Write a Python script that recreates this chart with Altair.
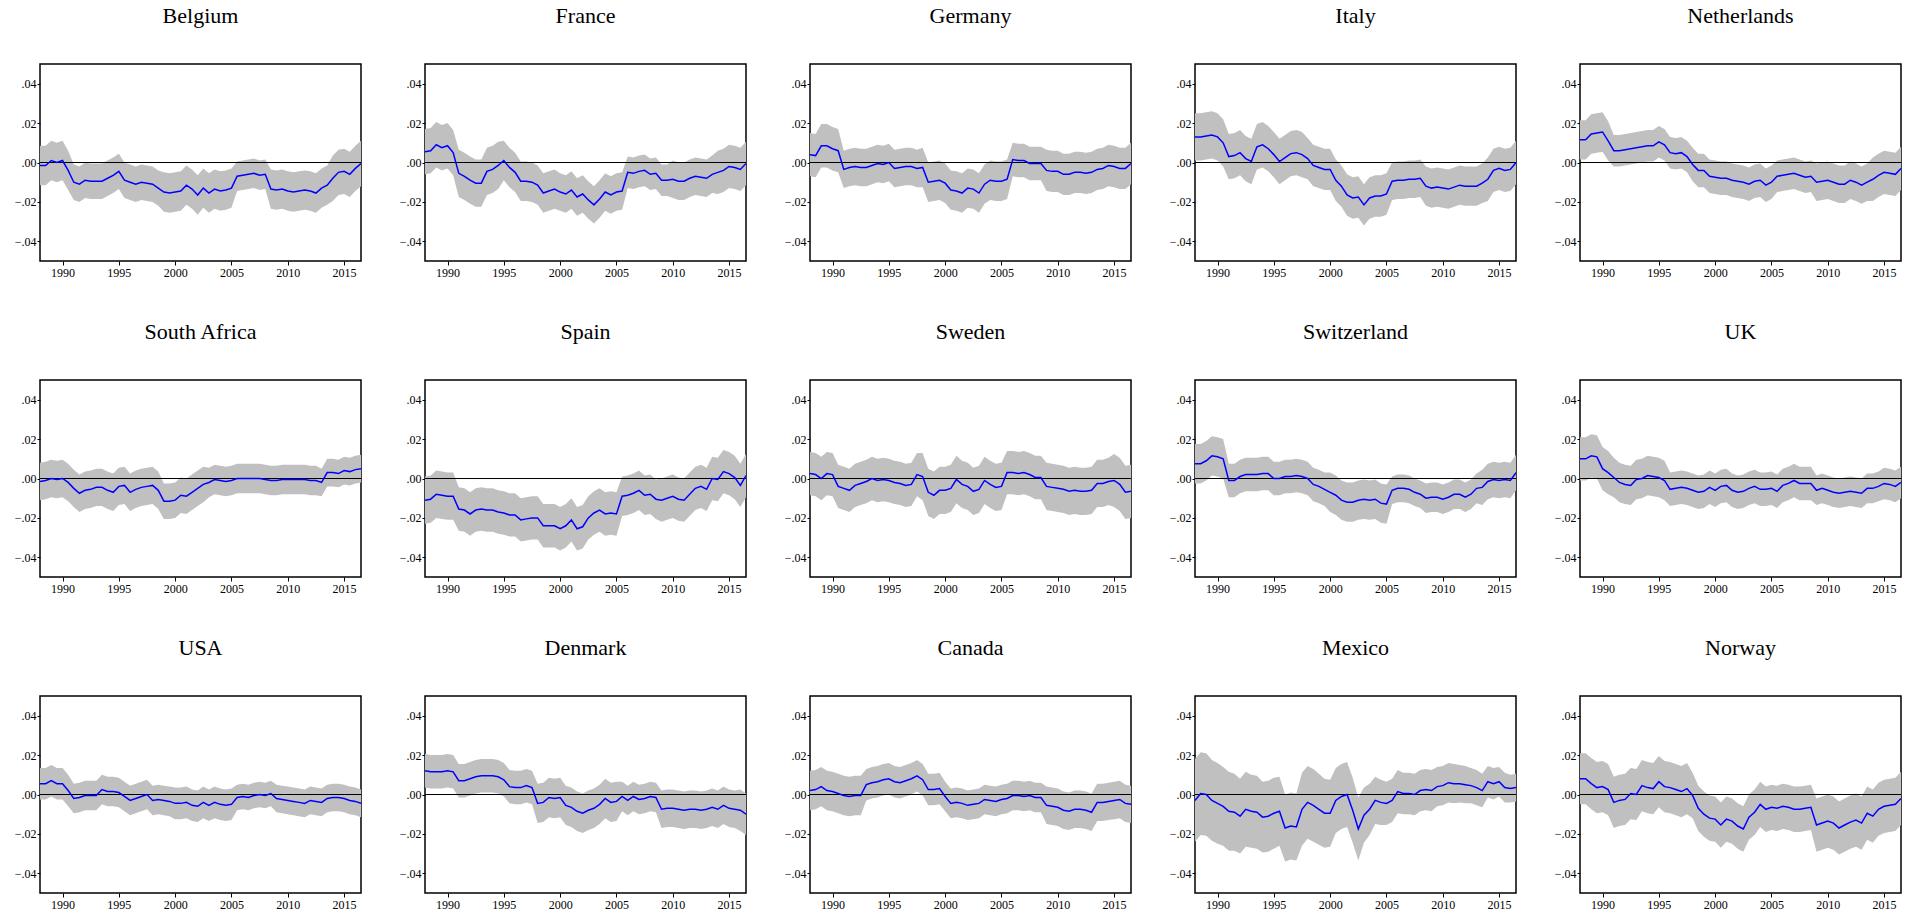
import altair as alt
import pandas as pd

COUNTRIES = ["Belgium", "France", "Germany", "Italy", "Netherlands",
             "South Africa", "Spain", "Sweden", "Switzerland", "UK",
             "USA", "Denmark", "Canada", "Mexico", "Norway"]

# half-year observation dates, 1988.0 ... 2016.5
YEARS = [1988 + 0.5 * i for i in range(58)]

# Estimates and band half-widths, in thousandths (x 0.001)
BELGIUM = [-1.5, -1.5, 1, 0, 1, -4, -10, -11,
           -9, -9.5, -9.5, -9.5, -8, -6.5, -4.5, -9,
           -10, -11, -10, -10.5, -11, -13, -15, -15.5,
           -15, -14.5, -11.5, -13.5, -16.5, -13, -15.5, -13.5,
           -14.5, -14, -13, -7, -6.5, -6, -5.5, -6.5,
           -6, -13.5, -14, -13.5, -14.5, -15, -14.5, -14,
           -14.5, -15.5, -13, -11.5, -8, -5, -4.5, -6,
           -3, -0.5]
BELGIUM_HW = [10, 10, 10, 10, 10, 10, 9, 9,
              9, 9, 9, 9, 9, 9, 9, 9,
              9, 9, 9, 9, 9, 9, 10, 10,
              10, 10, 10, 10, 10, 10, 10, 10,
              10, 10, 10, 7.5, 7.5, 7.5, 7.5, 7.5,
              7.5, 10, 10, 10, 10, 10, 10, 10,
              10, 10, 10, 10, 11.5, 11.5, 11.5, 11.5,
              11.5, 11.5]

FRANCE = [5.5, 6, 9, 7.5, 8.5, 5, -5.5, -7,
          -9, -10.5, -10.5, -4.5, -3.5, -1.5, 1, -2.5,
          -5, -9.5, -9.5, -10, -11.5, -15.5, -14.5, -13.5,
          -15, -16, -14, -17.5, -16, -19, -21.5, -18.5,
          -15, -16.5, -15, -14.5, -5, -5.5, -4.5, -4,
          -6, -5.5, -9, -9, -8.5, -9.5, -9.5, -8,
          -7, -7.5, -8, -6, -5, -4, -2, -2.5,
          -3.5, -0.5]
FRANCE_HW = [11.5, 11.5, 11.5, 11.5, 11.5, 11.5, 12, 12,
             12, 12, 12, 12, 12, 12, 10, 10,
             10, 10, 10, 10, 10, 10, 10, 10,
             9.5, 9.5, 9.5, 9.5, 9.5, 9.5, 9.5, 9.5,
             9.5, 9.5, 9.5, 9.5, 8, 8, 8, 8,
             8, 8, 8, 8, 9.5, 9.5, 9.5, 9.5,
             9.5, 9.5, 9.5, 9.5, 11, 11, 11, 11,
             11, 11]

GERMANY = [4, 3.5, 8.5, 8.5, 7, 6, -3.5, -2.5,
           -2, -2.5, -2.5, -1.5, -0.5, -1, 0, -3,
           -2.5, -2, -2, -3, -2.5, -10, -9.5, -9,
           -10.5, -14, -14.5, -15.5, -13, -13.5, -15.5, -11,
           -9, -9.5, -9.5, -8.5, 1.5, 1, 1, -0.5,
           -0.5, -0.5, -4, -4.5, -4.5, -6, -6, -5,
           -5, -5.5, -5, -3.5, -3, -1.5, -2, -3,
           -3, -0.5]
GERMANY_HW = [11, 11, 11, 11, 11, 11, 9.5, 9.5,
              9.5, 9.5, 9.5, 9.5, 9.5, 9.5, 9.5, 9.5,
              9.5, 9.5, 9.5, 9.5, 10, 10, 10, 10,
              10, 10, 10, 10, 10, 10, 10, 10,
              10, 10, 10, 10, 8.5, 8.5, 8.5, 8.5,
              8.5, 8.5, 10.5, 10.5, 10.5, 10.5, 10.5, 10.5,
              10.5, 10.5, 10.5, 10.5, 10.5, 10.5, 10.5, 10.5,
              10.5, 10.5]

ITALY = [13, 13, 13.5, 14, 13, 10, 3, 3.5,
         5, 2, 0.5, 8, 9, 7, 4, 0.5,
         2.5, 4.5, 5, 4, 2, -1.5, -2.5, -3.5,
         -3.5, -9, -12, -16.5, -18, -17.5, -21.5, -18,
         -17, -17, -16, -9.5, -9, -9, -8.5, -8.5,
         -8, -12, -13, -12.5, -13, -13.5, -12.5, -11.5,
         -12, -12, -12, -10.5, -8.5, -4, -3, -4,
         -3.5, 0]
ITALY_HW = [12, 12, 12, 12, 12, 12, 11.5, 11.5,
            11.5, 11.5, 11.5, 11.5, 11.5, 11.5, 11.5, 11.5,
            11.5, 11.5, 11.5, 11.5, 10.5, 10.5, 10.5, 10.5,
            10.5, 10.5, 10.5, 10.5, 10.5, 10.5, 10.5, 10.5,
            10.5, 10.5, 10.5, 9.5, 9.5, 9.5, 9.5, 9.5,
            9.5, 10, 10, 10, 10, 10, 10, 10,
            10, 10, 10, 10, 11, 11, 11, 11,
            11, 11]

NETHERLANDS = [11.5, 11.5, 14.5, 15, 15.5, 11, 6, 6,
               6.5, 7, 7.5, 8, 8.5, 8.5, 10.5, 9,
               5, 4.5, 5, 3, -1, -4, -4, -7,
               -7.5, -8, -8, -9, -9.5, -10, -11, -9.5,
               -9, -11.5, -10, -7, -6.5, -6, -5.5, -6.5,
               -7.5, -7, -10, -9.5, -9, -10, -11, -11,
               -9, -10, -11.5, -10, -8.5, -6.5, -5, -5.5,
               -6, -3]
NETHERLANDS_HW = [10, 10, 10, 10, 10, 10, 8, 8,
                  8, 8, 8, 8, 8, 8, 8, 8,
                  8, 8, 8, 8, 8.5, 8.5, 8.5, 8.5,
                  8.5, 8.5, 8.5, 8.5, 8.5, 8.5, 8.5, 8.5,
                  8.5, 8.5, 8.5, 8, 8, 8, 8, 8,
                  8, 8, 9.5, 9.5, 9.5, 9.5, 9.5, 9.5,
                  9.5, 9.5, 9.5, 9.5, 11, 11, 11, 11,
                  11, 11]

SOUTH_AFRICA = [-1.5, -1, 0, -0.5, 0, -2, -5, -7.5,
                -6, -5.5, -4.5, -4.5, -6, -7, -4, -3.5,
                -7, -5.5, -4.5, -4, -3.5, -6, -11.5, -11.5,
                -11, -8.5, -9, -7, -5, -3, -2, -0.5,
                -1, -1.5, -1, 0, 0, 0, 0, 0,
                -0.5, -1, -1, -0.5, -0.5, -0.5, -0.5, -0.5,
                -1, -1, -2, 3, 3, 2.5, 4, 3.5,
                4.5, 5]
SOUTH_AFRICA_HW = [9.5, 9.5, 9.5, 9.5, 9.5, 9.5, 9.5, 9.5,
                   9.5, 9.5, 9.5, 9.5, 9.5, 9.5, 9.5, 9.5,
                   9.5, 9.5, 9.5, 9.5, 9.5, 9.5, 9, 9,
                   9, 9, 9, 9, 9, 9, 7.5, 7.5,
                   7.5, 7.5, 7.5, 7.5, 7.5, 7.5, 7.5, 7.5,
                   7.5, 7.5, 7.5, 7.5, 7.5, 7.5, 7.5, 7.5,
                   7.5, 7.5, 7, 7, 7, 7, 7, 7,
                   7, 7]

SPAIN = [-11, -10.5, -8, -8.5, -9, -9, -15.5, -16,
         -18, -16, -15.5, -16, -16, -17, -17.5, -18.5,
         -18.5, -21, -20.5, -20, -20, -24, -24, -24,
         -25.5, -24, -21, -25.5, -24.5, -20, -17.5, -16,
         -18, -17.5, -18, -9, -8.5, -7.5, -6, -8.5,
         -8, -10.5, -11, -10, -9, -10.5, -11, -8,
         -5, -4, -5.5, 0, -0.5, 3.5, 2.5, 0.5,
         -3.5, 1.5]
SPAIN_HW = [12, 12, 12, 12, 12, 12, 11, 11,
            11, 11, 11, 11, 11, 11, 11, 11,
            11, 11, 11, 11, 11, 11, 11, 11,
            11, 11, 11, 11, 11, 11, 11, 11,
            11, 11, 11, 10, 10, 10, 10, 10,
            10, 10, 11, 11, 11, 11, 11, 11,
            11, 11, 11, 11, 11, 11, 11, 11,
            11, 11]

SWEDEN = [2.5, 2, 0, 2.5, 2, -4, -5, -6,
          -3.5, -2.5, -1.5, 0, -1, -0.5, -1, -2,
          -2.5, -3.5, -3, 2, 1, -7, -8.5, -6,
          -6, -5, -0.5, -3, -4, -6.5, -5.5, -1,
          -3, -4.5, -4, 3, 3, 2.5, 3, 2,
          0.5, 0.5, -4, -4.5, -5, -5.5, -6.5, -6,
          -6.5, -6.5, -6, -2.5, -2.5, -1.5, -1, -3,
          -7, -6.5]
SWEDEN_HW = [11, 11, 11, 11, 11, 11, 11, 11,
             11, 11, 11, 11, 11, 11, 11, 11,
             11, 11, 11, 11, 12, 12, 12, 12,
             12, 12, 12, 12, 12, 12, 12, 12,
             12, 12, 12, 11, 11, 11, 11, 11,
             11, 11, 12, 12, 12, 12, 12, 12,
             12, 12, 12, 12, 12, 12, 13.5, 13.5,
             13.5, 13.5]

SWITZERLAND = [7.5, 7.5, 9, 11.5, 11, 10, -1, -1,
               1, 2, 2, 2, 2.5, 2.5, 0, 0,
               1, 1, 1.5, 1, 0, -3, -4, -5.5,
               -7, -8.5, -11, -12, -12, -11, -10.5, -11,
               -10.5, -12.5, -13, -6, -5, -5, -5.5, -7,
               -8, -10, -9.5, -9.5, -10.5, -9.5, -8, -8,
               -9.5, -8, -5, -4.5, -1.5, -0.5, -1, -0.5,
               -1, 3]
SWITZERLAND_HW = [10, 10, 10, 10, 10, 10, 8.5, 8.5,
                  8.5, 8.5, 8.5, 8.5, 8.5, 8.5, 8.5, 8.5,
                  8.5, 8.5, 8.5, 8.5, 8.5, 8.5, 8.5, 8.5,
                  10, 10, 10, 10, 10, 10, 10, 10,
                  10, 10, 10, 7, 7, 7, 7, 7,
                  7, 7.5, 7.5, 7.5, 7.5, 7.5, 7.5, 7.5,
                  7.5, 7.5, 7.5, 9, 9, 9, 9, 9,
                  9, 9]

UK = [10, 10, 11.5, 11, 5, 3, 0.5, -2,
      -3, -3.5, -0.5, 0, 1.5, 1, 0.5, -1,
      -5.5, -5, -4.5, -5, -6, -7, -6.5, -4.5,
      -6, -4, -3.5, -6, -7, -6.5, -5, -4,
      -5.5, -5.5, -5, -6.5, -3.5, -2.5, -1, -2.5,
      -2.5, -2.5, -6, -5, -6, -7, -7.5, -7,
      -6.5, -7, -7.5, -5, -5, -4, -2.5, -3,
      -4, -2]
UK_HW = [11, 11, 11, 11, 11, 11, 10, 10,
         10, 10, 10, 10, 10, 10, 10, 10,
         8.5, 8.5, 8.5, 8.5, 8.5, 8.5, 8.5, 8.5,
         8.5, 8.5, 8.5, 8.5, 8.5, 8.5, 8.5, 8.5,
         8.5, 8.5, 8.5, 8.5, 8.5, 8.5, 8.5, 8.5,
         8.5, 8.5, 7.5, 7.5, 7.5, 7.5, 7.5, 7.5,
         7.5, 7.5, 7.5, 7.5, 7.5, 7.5, 8, 8,
         8, 8]

USA = [5.5, 5.5, 7, 5.5, 5.5, 2, -2, -1.5,
       -0.5, -0.5, -0.5, 2.5, 1.5, 1.5, 1, -1,
       -3, -2, -1, 0, -3, -2.5, -3, -3.5,
       -4.5, -4.5, -4, -5.5, -6, -4, -5.5, -4,
       -5, -5.5, -5, -1.5, -1, -1.5, -0.5, 0,
       -0.5, 0.5, -2, -2.5, -3, -3.5, -4, -4.5,
       -3, -3.5, -4, -2, -1.5, -1.5, -2, -3,
       -3.5, -4.5]
USA_HW = [8, 8, 8, 8, 8, 8, 7.5, 7.5,
          7.5, 7.5, 7.5, 7.5, 7.5, 7.5, 7.5, 7.5,
          7.5, 7.5, 7.5, 7.5, 7.5, 7.5, 7.5, 7.5,
          8, 8, 8, 8, 8, 8, 8, 8,
          8, 8, 8, 6.5, 6.5, 6.5, 6.5, 6.5,
          6.5, 6.5, 7, 7, 7, 7, 7, 7,
          7, 7, 7, 7, 7, 7, 7, 7,
          7, 7]

DENMARK = [12, 11.5, 11.5, 11.5, 12, 11.5, 7, 7,
           8, 9, 9.5, 9.5, 9.5, 9, 7.5, 4,
           3.5, 3.5, 4.5, 3.5, -4.5, -4, -1.5, -2,
           -1.5, -5.5, -6.5, -8.5, -9.5, -8, -7, -5,
           -2, -4, -3.5, -1, -3, -1, -2.5, -2,
           -1, -1.5, -7.5, -7, -7, -7.5, -8, -7.5,
           -7.5, -8, -7.5, -6.5, -7.5, -5.5, -7, -7.5,
           -8, -10]
DENMARK_HW = [8.5, 8.5, 8.5, 8.5, 8.5, 8.5, 8.5, 8.5,
              8.5, 8.5, 8.5, 8.5, 8.5, 8.5, 8.5, 8.5,
              8.5, 8.5, 8.5, 8.5, 10, 10, 10, 10,
              10, 10, 10, 10, 10, 10, 10, 10,
              10, 10, 10, 7.5, 7.5, 7.5, 7.5, 7.5,
              7.5, 7.5, 9.5, 9.5, 9.5, 9.5, 9.5, 9.5,
              9.5, 9.5, 9.5, 9.5, 9.5, 9.5, 9.5, 9.5,
              10.5, 10.5]

CANADA = [2, 2.5, 4, 2, 1.5, 0.5, -0.5, -1,
          -0.5, -0.5, 5, 6, 6.5, 7.5, 8, 6.5,
          6, 7, 8, 9.5, 7.5, 2.5, 2.5, 3,
          -1, -4.5, -4, -4.5, -5.5, -5, -4.5, -2.5,
          -3, -3.5, -2.5, -2, -0.5, -0.5, -1, -0.5,
          -1.5, -1.5, -5.5, -6, -6.5, -8, -8.5, -7.5,
          -7.5, -8, -9, -4, -4, -3.5, -3, -2.5,
          -4.5, -5]
CANADA_HW = [10, 10, 10, 10, 10, 10, 10, 10,
             10, 10, 8, 8, 8, 8, 8, 8,
             8, 8, 8, 8, 8, 8, 8, 8,
             7.5, 7.5, 7.5, 7.5, 7.5, 7.5, 7.5, 7.5,
             7.5, 7.5, 7.5, 7.5, 7.5, 7.5, 7.5, 7.5,
             7.5, 7.5, 9.5, 9.5, 9.5, 9.5, 9.5, 9.5,
             9.5, 9.5, 9.5, 9.5, 9.5, 9.5, 9.5, 9.5,
             9.5, 9.5]

MEXICO = [-3, 0.5, 0, -3, -4.5, -6, -8.5, -9,
          -11, -7.5, -8.5, -9, -11.5, -11, -9.5, -8.5,
          -17, -16, -16.5, -7.5, -4, -5.5, -7.5, -9.5,
          -9.5, -3, -1, 0, -8, -17.5, -10.5, -7.5,
          -3, -4, -4.5, -3, 1.5, 0.5, 0.5, 0,
          2, 2.5, 2, 4, 4.5, 6, 5.5, 5.5,
          5, 4.5, 3.5, 2, 6.5, 5.5, 6.5, 3.5,
          3, 3.5]
MEXICO_HW = [21, 21, 21, 20.5, 20.5, 20, 20, 19.5,
             19, 19, 18.5, 18.5, 18, 18, 18, 17.5,
             17, 17, 17, 18.5, 18.5, 18.5, 18, 17.5,
             17, 16.5, 16.5, 16.5, 16.5, 16, 14, 13,
             12, 11.5, 11, 11, 11, 10.5, 10.5, 10.5,
             10.5, 10.5, 10.5, 10, 10, 10, 10, 9.5,
             9.5, 9, 9, 8.5, 8, 8, 7.5, 7.5,
             7, 7]

NORWAY = [8, 8, 5.5, 3.5, 4, 2.5, -4, -3,
          -2.5, 0.5, 0, 4.5, 3.5, 3, 6.5, 4,
          3.5, 2.5, 1.5, 3, -0.5, -7, -10, -12,
          -12.5, -15.5, -12.5, -13.5, -16, -17.5, -11.5, -9,
          -5, -7.5, -6.5, -7, -6, -6.5, -7.5, -7.5,
          -7, -6.5, -15.5, -14.5, -13.5, -14.5, -17, -15.5,
          -14, -13, -14.5, -9.5, -11, -7.5, -6, -5.5,
          -5, -2]
NORWAY_HW = [13, 13, 13, 13, 13, 13, 13, 13,
             13, 13, 13, 13, 13, 13, 13, 13,
             13, 13, 13, 13, 11.5, 11.5, 11.5, 11.5,
             11.5, 11.5, 11.5, 11.5, 11.5, 11.5, 11.5, 11.5,
             11.5, 11.5, 11.5, 11.5, 11.5, 11.5, 11.5, 11.5,
             11.5, 11.5, 13.5, 13.5, 13.5, 13.5, 13.5, 13.5,
             13.5, 13.5, 13.5, 13.5, 13.5, 13.5, 13.5, 13.5,
             13.5, 13.5]

SERIES = {
    "Belgium": (BELGIUM, BELGIUM_HW),
    "France": (FRANCE, FRANCE_HW),
    "Germany": (GERMANY, GERMANY_HW),
    "Italy": (ITALY, ITALY_HW),
    "Netherlands": (NETHERLANDS, NETHERLANDS_HW),
    "South Africa": (SOUTH_AFRICA, SOUTH_AFRICA_HW),
    "Spain": (SPAIN, SPAIN_HW),
    "Sweden": (SWEDEN, SWEDEN_HW),
    "Switzerland": (SWITZERLAND, SWITZERLAND_HW),
    "UK": (UK, UK_HW),
    "USA": (USA, USA_HW),
    "Denmark": (DENMARK, DENMARK_HW),
    "Canada": (CANADA, CANADA_HW),
    "Mexico": (MEXICO, MEXICO_HW),
    "Norway": (NORWAY, NORWAY_HW),
}

X_TICKS = [1990, 1995, 2000, 2005, 2010, 2015]
Y_TICKS = [-0.04, -0.02, 0.0, 0.02, 0.04]

records = []
for country in COUNTRIES:
    est, hw = SERIES[country]
    for t, m, h in zip(YEARS, est, hw):
        records.append({"country": country, "year": t,
                        "est": m / 1000, "lo": (m - h) / 1000, "hi": (m + h) / 1000})
df = pd.DataFrame(records)

SERIF = "Liberation Serif"

x_enc = alt.X("year:Q",
              scale=alt.Scale(domain=[1988, 2016.5], nice=False, zero=False),
              axis=alt.Axis(values=X_TICKS, format="d", title=None,
                            labelPadding=2, tickSize=4))
y_enc = alt.Y("lo:Q",
              scale=alt.Scale(domain=[-0.05, 0.05], nice=False, zero=False),
              axis=alt.Axis(values=Y_TICKS, title=None, tickSize=3, labelPadding=1,
                            labelExpr="replace(replace(format(datum.value, '.2f'), '0.', '.'), '-', '- ')"))

band = alt.Chart().mark_area(color="#c0c0c0", clip=True).encode(
    x=x_enc, y=y_enc, y2="hi:Q")
zero_line = alt.Chart().mark_rule(color="black", strokeWidth=1.2).encode(
    y=alt.datum(0))
estimate = alt.Chart().mark_line(color="#0000ff", strokeWidth=1.5, clip=True).encode(
    x="year:Q", y="est:Q")

panel = alt.layer(band, zero_line, estimate, data=df).properties(width=321, height=197)

chart = panel.facet(
    facet=alt.Facet("country:N", sort=COUNTRIES,
                    header=alt.Header(title=None, labelFont=SERIF, labelFontSize=22,
                                      labelColor="black", labelPadding=36)),
    columns=5,
    spacing={"row": 41, "column": 35},
).resolve_axis(
    x="independent", y="independent"
).properties(
    padding={"left": 13, "top": 4, "right": 0, "bottom": 0}
).configure_view(
    stroke="black", strokeWidth=1.5
).configure_axis(
    labelFont=SERIF, labelFontSize=12, labelColor="black",
    tickColor="black", domain=False, grid=False
)

chart.save("out.html", embed_options={"renderer": "svg", "actions": False})
